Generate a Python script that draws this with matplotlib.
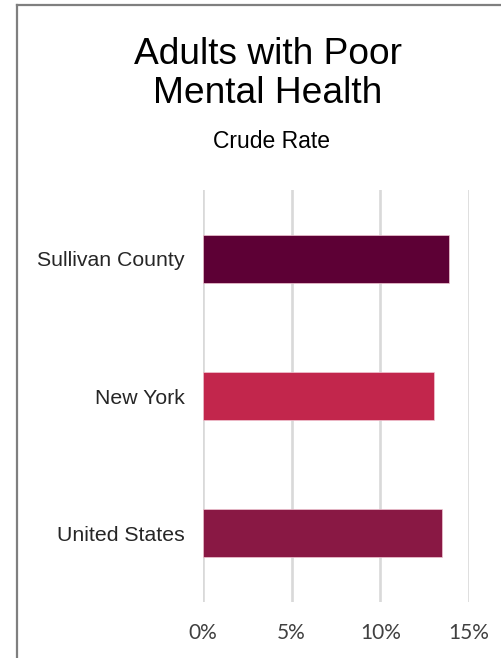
import matplotlib.pyplot as plt
from matplotlib.lines import Line2D

# data
places = ["Sullivan County", "New York", "United States"]
rates = [13.9, 13.0, 13.5]
bar_colors = ["#5d0035", "#c2264c", "#891844"]
xticks = [0, 5, 10, 15]
xtick_labels = ["0%", "5%", "10%", "15%"]

W, H = 502, 658
fig = plt.figure(figsize=(W / 100, H / 100), dpi=100)
fig.patch.set_facecolor("white")

# axes placed in pixel terms
left, right, top, bottom = 203, 469, 190, 602
ax = fig.add_axes([left / W, 1 - bottom / H, (right - left) / W, (bottom - top) / H])

ypos = list(range(len(places)))
ax.barh(ypos, rates, height=0.35, color=bar_colors, edgecolor="#f0c6d2", linewidth=0.5, zorder=3)
ax.set_ylim(len(places) - 0.5, -0.5)
ax.set_xlim(0, 15)

ax.set_xticks(xticks)
ax.set_xticklabels(xtick_labels, fontfamily="Lato", fontsize=15, color="#404040")
ax.set_yticks(ypos)
ax.set_yticklabels(places, fontfamily="Liberation Sans", fontsize=15.3, color="#262626")
ax.tick_params(axis="both", length=0)
ax.tick_params(axis="x", pad=15)
ax.tick_params(axis="y", pad=13)
ax.grid(axis="x", color="#d9d9d9", linewidth=1.9, zorder=0)
for s in ax.spines.values():
    s.set_visible(False)

# titles
fig.text(268 / W, 1 - 103 / H, "Adults with Poor\nMental Health", ha="center", va="baseline",
         fontfamily="Liberation Sans", fontsize=26.7, color="black", linespacing=1.15)
fig.text(272 / W, 1 - 148 / H, "Crude Rate", ha="center", va="baseline",
         fontfamily="Liberation Sans", fontsize=16.5, color="black")

# frame around the chart (left and top visible)
fig.add_artist(Line2D([17 / W, 17 / W], [0, 1 - 5 / H], color="#7f7f7f", linewidth=1.6,
                      transform=fig.transFigure))
fig.add_artist(Line2D([17 / W, 1], [1 - 5 / H, 1 - 5 / H], color="#7f7f7f", linewidth=1.6,
                      transform=fig.transFigure))

fig.savefig("out.png", dpi=100)
